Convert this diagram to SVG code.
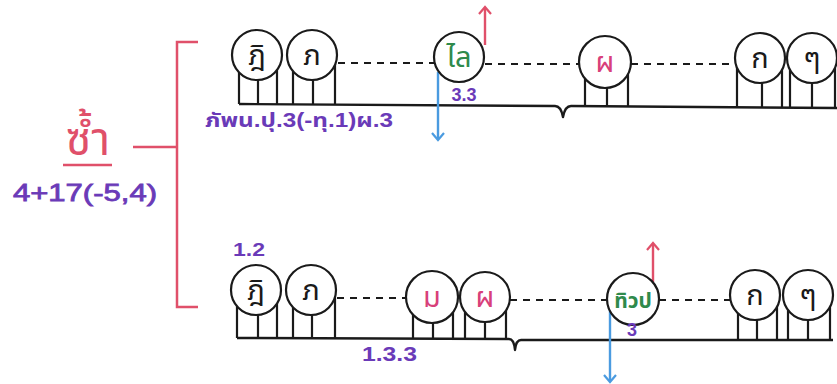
<svg xmlns="http://www.w3.org/2000/svg" width="837" height="384" viewBox="0 0 837 384">
<defs>
<style>
.bg{fill:#ffffff}
.stem{stroke:#1a1a1a;stroke-width:2.2;fill:none}
.base{stroke:#1a1a1a;stroke-width:2.4;fill:none;stroke-linejoin:round}
.circ{fill:#ffffff;stroke:#1a1a1a;stroke-width:2.2}
.dash{stroke:#1a1a1a;stroke-width:2;stroke-dasharray:7 6;fill:none}
.th{font-family:"Noto Sans Thai","Noto Sans","DejaVu Sans",sans-serif;font-size:29px;text-anchor:middle}
.blk{fill:#1a1a1a}
.pink{fill:#d8407a}
.grn{fill:#2f8a4c}
.pur{fill:#6a3ab8;font-family:"Liberation Sans","Noto Sans Thai","DejaVu Sans",sans-serif;font-weight:bold}
.red{stroke:#e0506a;stroke-width:2.5;fill:none}
.up{stroke:#e0506a;stroke-width:2.4;fill:none}
.down{stroke:#4a9be0;stroke-width:2.4;fill:none}
</style>
<marker id="ahR" viewBox="0 0 14 14" refX="7" refY="7" markerWidth="14" markerHeight="14" markerUnits="userSpaceOnUse" orient="auto"><path d="M1 1 L8 7 L1 13" stroke="#e0506a" stroke-width="2.2" fill="none"/></marker>
<marker id="ahB" viewBox="0 0 14 14" refX="7" refY="7" markerWidth="14" markerHeight="14" markerUnits="userSpaceOnUse" orient="auto"><path d="M1 1 L8 7 L1 13" stroke="#4a9be0" stroke-width="2.2" fill="none"/></marker>
</defs>
<rect class="bg" x="0" y="0" width="837" height="384"/>

<g id="label-left">
<text x="88" y="155" style="font-family:'Noto Sans Thai','Noto Sans','DejaVu Sans',sans-serif;font-size:46px;fill:#e0506a;text-anchor:middle">ซ้ำ</text>
<line x1="63" y1="165" x2="112" y2="165" class="red" stroke-width="2"/>
<text class="pur" x="13" y="201" font-size="24" textLength="144" lengthAdjust="spacingAndGlyphs" style="font-weight:normal;stroke:#6a3ab8;stroke-width:0.8">4+17(-5,4)</text>
</g>

<g id="bracket">
<path class="red" d="M198 42 L177 42 L177 307 L198 307"/>
<path class="red" d="M133 147 L177 147"/>
</g>

<g id="connectors">
<path class="base" d="M239 104 L555 106 Q561 106 563 117 Q565 106 571 106 L837 108"/>
<path class="base" d="M237 338 L509 339 Q514 339 515 350 Q516 340 521 340 L833 340"/>
<line class="dash" x1="338" y1="63" x2="434" y2="63"/>
<line class="dash" x1="485" y1="64" x2="579" y2="64"/>
<line class="dash" x1="631" y1="64" x2="735" y2="64"/>
<line class="dash" x1="337" y1="298" x2="406" y2="298"/>
<line class="dash" x1="510" y1="300" x2="607" y2="300"/>
<line class="dash" x1="659" y1="300" x2="730" y2="300"/>
<line class="up" x1="485" y1="45" x2="485" y2="8" marker-end="url(#ahR)"/>
<line class="down" x1="438" y1="72" x2="438" y2="139" marker-end="url(#ahB)"/>
<line class="up" x1="653" y1="282" x2="653" y2="244" marker-end="url(#ahR)"/>
<line class="down" x1="610" y1="310" x2="610" y2="381" marker-end="url(#ahB)"/>
</g>

<g id="t1">
<path class="stem" d="M239 55 V104 M258 55 V104 M277 55 V104"/>
<circle class="circ" cx="257" cy="55" r="25"/>
<text class="th blk" x="257" y="65">ฎิ</text>
</g>
<g id="t2">
<path class="stem" d="M293 55 V104 M313 55 V104 M335 55 V104"/>
<circle class="circ" cx="312" cy="55" r="25"/>
<text class="th blk" x="312" y="65">ภ</text>
</g>
<g id="t3">
<circle class="circ" cx="459" cy="57" r="25"/>
<text class="th grn" x="459" y="67">ไล</text>
</g>
<g id="t4">
<path class="stem" d="M585 62 V106 M607 62 V106 M628 62 V106"/>
<circle class="circ" cx="605" cy="62" r="26"/>
<text class="th pink" x="605" y="72">ผ</text>
</g>
<g id="t5">
<path class="stem" d="M737 58 V107 M762 58 V107 M782 58 V107"/>
<circle class="circ" cx="760" cy="58" r="25"/>
<text class="th blk" x="760" y="68">ก</text>
</g>
<g id="t6">
<path class="stem" d="M790 58 V108 M812 58 V108 M835 58 V108"/>
<circle class="circ" cx="812" cy="58" r="25"/>
<text class="th blk" x="812" y="68">ๆ</text>
</g>

<g id="b1">
<path class="stem" d="M237 290 V338 M258 290 V338 M277 290 V338"/>
<circle class="circ" cx="256" cy="290" r="25"/>
<text class="th blk" x="256" y="300">ฎิ</text>
</g>
<g id="b2">
<path class="stem" d="M293 290 V338 M312 290 V338 M335 290 V338"/>
<circle class="circ" cx="311" cy="290" r="25"/>
<text class="th blk" x="311" y="300">ภ</text>
</g>
<g id="b3">
<path class="stem" d="M413 297 V339 M433 297 V339 M453 297 V339"/>
<circle class="circ" cx="432" cy="297" r="26"/>
<text class="th pink" x="432" y="307">ม</text>
</g>
<g id="b4">
<path class="stem" d="M465 297 V339 M485 297 V339 M506 297 V339"/>
<circle class="circ" cx="485" cy="297" r="25"/>
<text class="th pink" x="485" y="307">ผ</text>
</g>
<g id="b5">
<circle class="circ" cx="633" cy="299" r="26"/>
<text class="th grn" x="633" y="308" style="font-size:21px;font-weight:bold">ทิวป</text>
</g>
<g id="b6">
<path class="stem" d="M738 295 V340 M757 295 V340 M777 295 V340"/>
<circle class="circ" cx="755" cy="295" r="25"/>
<text class="th blk" x="755" y="305">ก</text>
</g>
<g id="b7">
<path class="stem" d="M788 295 V340 M808 295 V340 M830 295 V340"/>
<circle class="circ" cx="808" cy="295" r="25"/>
<text class="th blk" x="808" y="305">ๆ</text>
</g>

<g id="labels">
<text class="pur" x="464" y="101" font-size="18" text-anchor="middle">3.3</text>
<text class="pur" x="205" y="127" font-size="20" textLength="188" lengthAdjust="spacingAndGlyphs">ภัพน.ปุ.3(-ทุ.1)ผ.3</text>
<text class="pur" x="233" y="256" font-size="19" textLength="32" lengthAdjust="spacingAndGlyphs">1.2</text>
<text class="pur" x="362" y="361" font-size="21" textLength="55" lengthAdjust="spacingAndGlyphs">1.3.3</text>
<text class="pur" x="632" y="336" font-size="18" text-anchor="middle">3</text>
</g>
</svg>
